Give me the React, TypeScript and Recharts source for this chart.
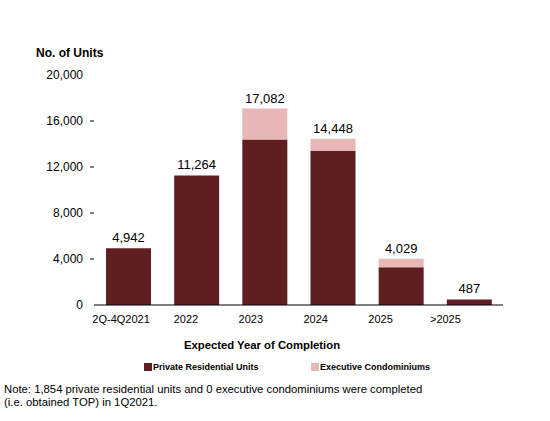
import React from "react";
import { BarChart, Bar, XAxis, YAxis, LabelList } from "recharts";

const categories = ["2Q-4Q2021", "2022", "2023", "2024", "2025", ">2025"];
const privateUnits = [4942, 11264, 14400, 13400, 3280, 487];
const ecUnits = [0, 0, 2682, 1048, 749, 0];
const yTicks = [0, 4000, 8000, 12000, 16000, 20000];

const PRIVATE_COLOR = "#5e1e22";
const EC_COLOR = "#e8b8b8";
const FONT = "'Liberation Sans', Arial, Helvetica, sans-serif";

const data = categories.map((name, i) => ({
  name,
  private: privateUnits[i],
  ec: ecUnits[i],
}));

const fmt = (v: number) => v.toLocaleString("en-US");

const YTick = (props: any) => {
  const { x, y, payload } = props;
  const v = payload.value;
  return (
    <g>
      <text x={x} y={y} dy={4} textAnchor="end" fontSize={12} fill="#000" fontFamily={FONT}>
        {fmt(v)}
      </text>
      {v !== 0 && v !== 20000 && (
        <line x1={x + 7} x2={x + 11} y1={y} y2={y} stroke="#000" strokeWidth={1} />
      )}
    </g>
  );
};

// the source's category labels drift left of their bars a little more each step
const XTick = (props: any) => {
  const { x, y, payload, index } = props;
  return (
    <text
      x={x - 7 - index * 3.3}
      y={y}
      dy="0.71em"
      textAnchor="middle"
      fontSize={11}
      fill="#000"
      fontFamily={FONT}
    >
      {payload.value}
    </text>
  );
};

// total label above the whole stack, placed with the private bar's own scale
const TotalLabel = (props: any) => {
  const { x, y, width, height, index } = props;
  const perUnit = height / privateUnits[index];
  const top = y - ecUnits[index] * perUnit;
  return (
    <text
      x={x + width / 2}
      y={top - 6}
      textAnchor="middle"
      fontSize={13}
      fill="#000"
      fontFamily={FONT}
    >
      {fmt(privateUnits[index] + ecUnits[index])}
    </text>
  );
};

const legendItems = [
  { label: "Private Residential Units", color: PRIVATE_COLOR, left: 144 },
  { label: "Executive Condominiums", color: EC_COLOR, left: 311 },
];

export default function App() {
  return (
    <div
      style={{
        position: "relative",
        width: 550,
        height: 421,
        background: "#fff",
        fontFamily: FONT,
        color: "#000",
        overflow: "hidden",
      }}
    >
      <style>{`body { margin: 0; }`}</style>
      <div
        style={{
          position: "absolute",
          left: 36,
          top: 46,
          fontSize: 12,
          fontWeight: "bold",
        }}
      >
        No. of Units
      </div>

      <BarChart
        width={550}
        height={421}
        data={data}
        margin={{ top: 75, right: 47, bottom: 86, left: 0 }}
        barSize={45}
        style={{ position: "absolute", left: 0, top: 0 }}
      >
        <YAxis
          width={94}
          domain={[0, 20000]}
          ticks={yTicks}
          axisLine={false}
          tickLine={false}
          tickSize={0}
          tickMargin={11}
          tick={<YTick />}
          interval={0}
        />
        <XAxis
          dataKey="name"
          height={30}
          axisLine={{ stroke: "#000", strokeWidth: 1 }}
          tickLine={false}
          tickSize={0}
          tickMargin={10}
          tick={<XTick />}
          interval={0}
        />
        <Bar dataKey="private" stackId="a" fill={PRIVATE_COLOR} isAnimationActive={false}>
          <LabelList dataKey="private" content={<TotalLabel />} />
        </Bar>
        <Bar dataKey="ec" stackId="a" fill={EC_COLOR} isAnimationActive={false} />
      </BarChart>

      <div
        style={{
          position: "absolute",
          left: 0,
          width: 524,
          top: 339,
          textAlign: "center",
          fontSize: 11.3,
          fontWeight: "bold",
        }}
      >
        Expected Year of Completion
      </div>

      {legendItems.map((item) => (
        <div
          key={item.label}
          style={{
            position: "absolute",
            left: item.left,
            top: 362,
            display: "flex",
            alignItems: "center",
            fontSize: 9,
            fontWeight: "bold",
            whiteSpace: "nowrap",
          }}
        >
          <span
            style={{
              display: "inline-block",
              width: 8,
              height: 8,
              background: item.color,
              marginRight: 1,
            }}
          />
          {item.label}
        </div>
      ))}

      <div
        style={{
          position: "absolute",
          left: 4,
          top: 383,
          fontSize: 11.3,
          lineHeight: "13px",
          whiteSpace: "nowrap",
        }}
      >
        Note: 1,854 private residential units and 0 executive condominiums were completed
        <br />
        (i.e. obtained TOP) in 1Q2021.
      </div>
    </div>
  );
}
